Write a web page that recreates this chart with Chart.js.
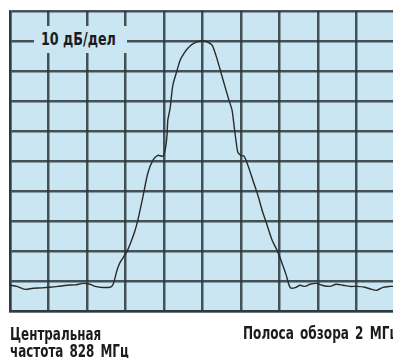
<!DOCTYPE html>
<html>
<head>
<meta charset="utf-8">
<script src="https://cdn.jsdelivr.net/npm/chart.js@4/dist/chart.umd.min.js"></script>
<style>
    html, body { margin: 0; padding: 0; background: #ffffff; overflow: hidden; }
    #wrap { position: relative; width: 393px; height: 358px; overflow: hidden; }
    #spectrum { position: absolute; left: 0; top: 0; }
    .txt {
        position: absolute;
        font-family: "Liberation Sans Narrow", "DejaVu Sans Condensed", "Liberation Sans", sans-serif;
        font-weight: bold;
        color: #1c1c1c;
        white-space: nowrap;
        transform-origin: 0 0;
    }
    #scaleBox {
        position: absolute;
        left: 34px; top: 26px; width: 93px; height: 27px;
        background: #c9e6f2;
    }
    #scaleLabel { left: 41px; top: 26px; font-size: 17px; line-height: 27px; transform: scaleX(0.83); }
    #centerLabel { left: 10px; top: 326px; font-size: 17px; line-height: 17px; word-spacing: 2.5px; transform: scaleX(0.78); }
    #spanLabel { left: 243px; top: 325px; font-size: 17px; line-height: 17px; word-spacing: 2.5px; transform: scaleX(0.79); }
</style>
</head>
<body>
<div id="wrap">
    <canvas id="spectrum" width="393" height="358"></canvas>
    <div id="scaleBox"></div>
    <div class="txt" id="scaleLabel">10 дБ/дел</div>
    <div class="txt" id="centerLabel">Центральная<br>частота 828 МГц</div>
    <div class="txt" id="spanLabel">Полоса обзора 2 МГц</div>
</div>
<script>
// horizontal position in screen divisions (0..10), level in dB (top of screen = 0 dB)
const divisions = [
    0, 0.18, 0.39, 0.6, 0.83, 1.04, 1.25, 1.48, 1.69, 1.9, 2.08, 2.21, 2.34, 2.6, 2.68,
    2.78, 2.86, 3.04, 3.14, 3.25, 3.35, 3.45, 3.58, 3.71, 3.84, 3.97, 4.03, 4.08, 4.1,
    4.16, 4.23, 4.34, 4.42, 4.52, 4.62, 4.73, 4.86, 4.99, 5.12, 5.25, 5.35, 5.45, 5.56,
    5.69, 5.77, 5.82, 5.87, 5.92, 6.0, 6.08, 6.18, 6.31, 6.44, 6.55, 6.68, 6.81, 6.94,
    7.06, 7.17, 7.25, 7.3, 7.43, 7.53, 7.66, 7.79, 7.97, 8.1, 8.31, 8.47, 8.65, 8.83,
    9.01, 9.22, 9.4, 9.53, 9.69, 9.87, 9.95
];
const levels = [
    -91.4, -91.8, -92.8, -92.4, -92.3, -92.1, -91.8, -91.4, -91.3, -90.8, -91.1, -91.8, -92.1, -92.1, -91.1,
    -86.4, -83.8, -80.1, -77.1, -73.1, -68.1, -62.1, -54.1, -49.8, -48.1, -48.4, -46.4, -41.4, -36.4,
    -32.4, -24.8, -19.8, -16.4, -14.1, -12.4, -11.1, -10.3, -9.9, -10.3, -11.4, -14.8, -19.1, -24.1,
    -29.8, -33.1, -38.1, -43.1, -47.1, -48.1, -48.4, -51.4, -56.4, -61.4, -66.4, -71.4, -76.4, -79.8,
    -83.8, -87.8, -91.4, -92.4, -92.1, -91.4, -91.8, -91.1, -90.8, -91.4, -91.8, -91.1, -91.4, -91.8,
    -91.8, -92.1, -92.8, -93.1, -92.1, -91.8, -91.8
];
const xTicks = [0, 1, 2, 3, 4, 5, 6, 7, 8, 9, 10];
const yTicks = [-100, -90, -80, -70, -60, -50, -40, -30, -20, -10, 0];

const screenBg = {
    id: 'screenBg',
    beforeDraw(chart) {
        const a = chart.chartArea;
        const ctx = chart.ctx;
        ctx.save();
        ctx.fillStyle = '#c9e6f2';
        ctx.fillRect(a.left, a.top, a.right - a.left + 4, a.bottom - a.top);
        ctx.restore();
    }
};

const gridColor = 'rgba(45, 55, 60, 0.85)';

new Chart(document.getElementById('spectrum').getContext('2d'), {
    type: 'line',
    data: {
        datasets: [{
            data: divisions.map((d, i) => ({ x: d, y: levels[i] })),
            borderColor: '#2b2b2b',
            borderWidth: 1.4,
            pointRadius: 0,
            tension: 0.25,
            fill: false
        }]
    },
    options: {
        responsive: false,
        animation: false,
        layout: { padding: { left: 10, top: 11, right: 0, bottom: 47 } },
        plugins: { legend: { display: false }, tooltip: { enabled: false } },
        scales: {
            x: {
                type: 'linear',
                min: 0,
                max: 9.95,
                afterBuildTicks: axis => { axis.ticks = xTicks.map(v => ({ value: v })); },
                ticks: { display: false },
                grid: { color: gridColor, lineWidth: 2.5, drawTicks: false },
                border: { color: gridColor, width: 2.5 }
            },
            y: {
                type: 'linear',
                min: -100,
                max: 0,
                afterBuildTicks: axis => { axis.ticks = yTicks.map(v => ({ value: v })); },
                ticks: { display: false },
                grid: { color: gridColor, lineWidth: 2.5, drawTicks: false },
                border: { color: gridColor, width: 2.5 }
            }
        }
    },
    plugins: [screenBg]
});
</script>
</body>
</html>
